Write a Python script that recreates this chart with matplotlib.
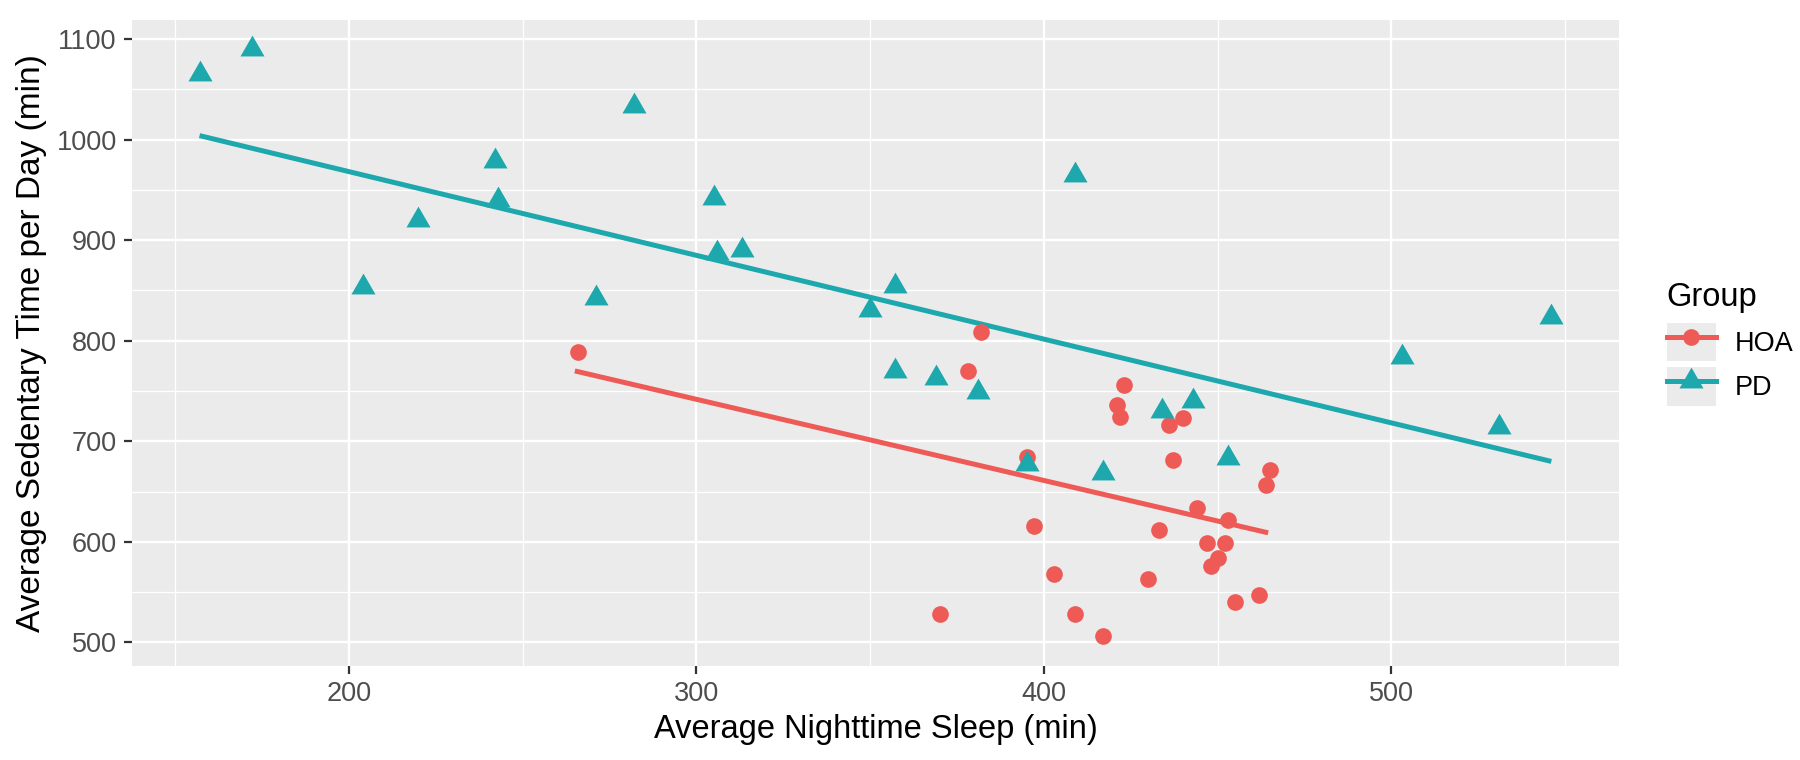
import matplotlib
matplotlib.use('Agg')
import matplotlib.pyplot as plt
from matplotlib.lines import Line2D
from matplotlib.patches import Rectangle
from matplotlib.legend_handler import HandlerLine2D
from matplotlib.ticker import MultipleLocator
import numpy as np

plt.rcParams['font.family'] = ['Liberation Sans', 'DejaVu Sans']

# HOA group (circles)
hoa_sleep = [266, 378, 382, 395, 397, 403, 370, 409, 417, 421, 422, 423, 430, 433,
             436, 437, 440, 444, 447, 452, 450, 448, 453, 455, 462, 464, 465]
hoa_sed = [789, 770, 809, 684, 616, 568, 528, 528, 506, 736, 724, 756, 563, 612,
           716, 681, 723, 634, 599, 599, 584, 576, 622, 540, 547, 657, 671]

# PD group (triangles)
pd_sleep = [157, 172, 204, 220, 242, 243, 271, 282, 305, 306, 313, 350, 357,
            357, 369, 381, 395, 409, 417, 434, 443, 453, 503, 531, 546]
pd_sed = [1065, 1090, 853, 920, 979, 940, 843, 1033, 942, 887, 890, 831, 854,
          770, 763, 749, 677, 965, 668, 730, 740, 683, 784, 714, 824]

# fitted lm lines (start / end)
hoa_fit_x = [265, 464.5]
hoa_fit_y = [770, 609]
pd_fit_x = [157, 546]
pd_fit_y = [1004, 680]

groups = ['HOA', 'PD']
colors = {'HOA': '#EE5A56', 'PD': '#1CA8AC'}

# equilateral triangle like R's pch 17
tri = [(0, 1), (-0.866, -0.5), (0.866, -0.5), (0, 1)]

fig = plt.figure(figsize=(18, 7.6), dpi=100)
ax = fig.add_axes([0.0733, 0.124, 0.8261, 0.850])
ax.set_facecolor('#EBEBEB')
for s in ax.spines.values():
    s.set_visible(False)

ax.xaxis.set_major_locator(MultipleLocator(100))
ax.xaxis.set_minor_locator(MultipleLocator(50))
ax.yaxis.set_major_locator(MultipleLocator(100))
ax.yaxis.set_minor_locator(MultipleLocator(50))
ax.grid(which='major', color='white', linewidth=1.7)
ax.grid(which='minor', color='white', linewidth=0.9)
ax.set_axisbelow(True)
ax.tick_params(which='minor', length=0)
ax.tick_params(which='major', length=6, width=1.6, color='#333333',
               labelsize=19.5, labelcolor='#4D4D4D', pad=5)

ax.plot(hoa_fit_x, hoa_fit_y, color=colors['HOA'], lw=3.6, solid_capstyle='butt', zorder=3)
ax.plot(pd_fit_x, pd_fit_y, color=colors['PD'], lw=3.6, solid_capstyle='butt', zorder=3)
ax.plot(hoa_sleep, hoa_sed, 'o', ms=12, color=colors['HOA'], mec='none', zorder=4)
ax.plot(pd_sleep, pd_sed, marker=tri, ls='none', ms=20, color=colors['PD'], mec='none', zorder=4)

# ggplot style 5% expansion
allx = hoa_sleep + pd_sleep
ally = hoa_sed + pd_sed
dx = (max(allx) - min(allx)) * 0.05
dy = (max(ally) - min(ally)) * 0.05
ax.set_xlim(min(allx) - dx, max(allx) + dx)
ax.set_ylim(min(ally) - dy, max(ally) + dy)

ax.set_xlabel('Average Nighttime Sleep (min)', fontsize=23.5, labelpad=5)
ax.set_ylabel('Average Sedentary Time per Day (min)', fontsize=24, labelpad=7)


class KeyHandler(HandlerLine2D):
    def create_artists(self, legend, orig_handle, xdescent, ydescent, width, height, fontsize, trans):
        bg = Rectangle((-xdescent, -ydescent), width, height, facecolor='#EBEBEB',
                       edgecolor='none', transform=trans)
        arts = super().create_artists(legend, orig_handle, xdescent, ydescent,
                                      width, height, fontsize, trans)
        return [bg] + list(arts)


handles = [
    Line2D([], [], color=colors['HOA'], lw=3.6, marker='o', ms=12, mec='none'),
    Line2D([], [], color=colors['PD'], lw=3.6, marker=tri, ms=20, mec='none'),
]
leg = fig.legend(handles, groups, title='Group', loc='center left',
                 bbox_to_anchor=(0.926, 0.545), frameon=False, fontsize=19.5,
                 title_fontsize=23.5, handlelength=1.8, handleheight=1.8,
                 labelspacing=0.22, handletextpad=0.7, borderpad=0, borderaxespad=0,
                 alignment='left', handler_map={Line2D: KeyHandler(numpoints=1)})
leg.get_title().set_position((0, 4))

fig.savefig('out.png', dpi=100)
